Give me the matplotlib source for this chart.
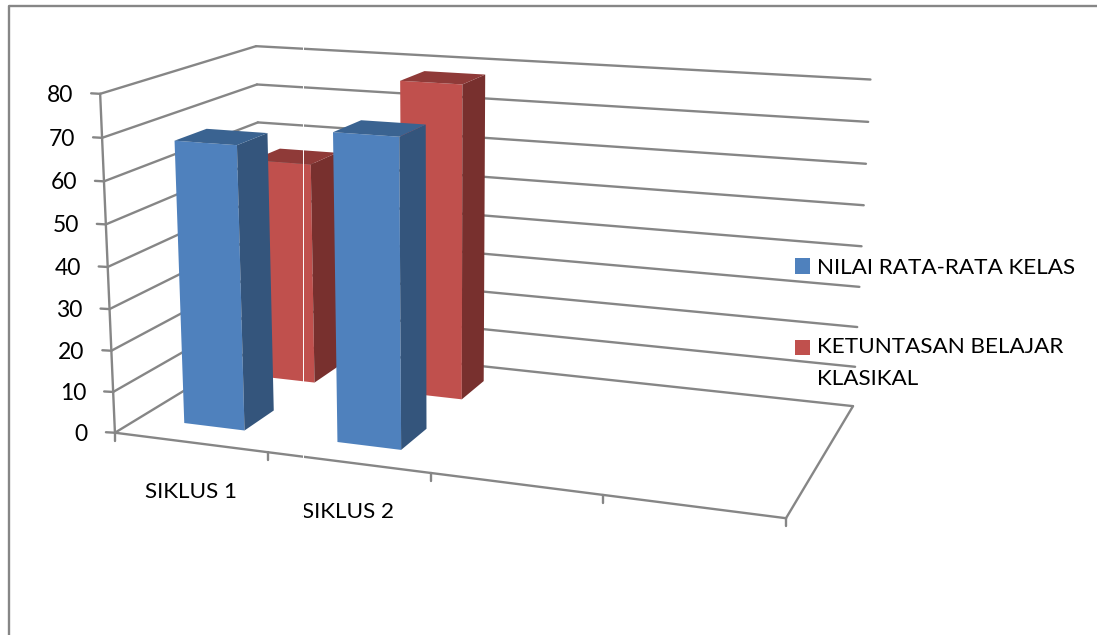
#!/usr/bin/env python3
# 3D style column chart (office look) drawn on a plain axes with a fitted camera
import matplotlib
matplotlib.use('Agg')
import matplotlib.pyplot as plt
from matplotlib.legend_handler import HandlerPatch
from matplotlib.patches import Patch, Rectangle
from matplotlib.collections import PolyCollection
import numpy as np

categories = ['SIKLUS 1', 'SIKLUS 2']
series_names = ['NILAI RATA-RATA KELAS', 'KETUNTASAN BELAJAR\nKLASIKAL']
nilai_rata = [68, 72.5]
ketuntasan = [56, 78]
y_ticks = [0, 10, 20, 30, 40, 50, 60, 70, 80]

N_CATS = 4      # the floor has room for four categories, two are empty
N_DEPTH = 2
Z_MAX = 80
GAP = 0.3       # gap on each side of a column, in category units

FRONT = {'blue': '#4F81BD', 'red': '#C0504D'}
SIDE = {'blue': '#34557C', 'red': '#78302E'}
TOP = {'blue': '#3A6391', 'red': '#8F3A38'}
GREY = '#868686'

# camera fit: (category, depth, value) -> picture pixel
world_pts = [(0, 0, 0), (0, 0, 40), (0, 0, 80), (1, 0, 0), (2, 0, 0), (3, 0, 0), (4, 0, 0),
             (0, 2, 0), (0, 2, 60), (0, 2, 80), (4, 2, 0), (4, 2, 40), (4, 2, 80)]
pixel_pts = [(117, 432), (106, 267), (100, 94), (268, 451), (431, 473), (603, 497), (786, 518),
             (262, 344), (258, 122), (257, 46), (853, 405), (862, 246), (870, 80)]


def fit_camera(world, pixels):
    rows = []
    for (x, y, z), (u, v) in zip(world, pixels):
        x, y, z, u, v = x / 4, y / 2, z / 80, u / 1000, v / 1000
        rows.append([x, y, z, 1, 0, 0, 0, 0, -u * x, -u * y, -u * z, -u])
        rows.append([0, 0, 0, 0, x, y, z, 1, -v * x, -v * y, -v * z, -v])
    return np.linalg.svd(np.array(rows))[2][-1].reshape(3, 4)


camera = fit_camera(world_pts, pixel_pts)


def project(x, y, z):
    p = camera @ np.array([x / 4, y / 2, z / 80, 1.0])
    return p[0] / p[2] * 1000, p[1] / p[2] * 1000


def draw_column(ax, cat, depth, value, color, zorder):
    x0, x1 = cat + GAP, cat + 1 - GAP
    y0, y1 = depth + GAP, depth + 1 - GAP
    front = [project(x0, y0, 0), project(x1, y0, 0), project(x1, y0, value), project(x0, y0, value)]
    side = [project(x1, y0, 0), project(x1, y1, 0), project(x1, y1, value), project(x1, y0, value)]
    top = [project(x0, y0, value), project(x1, y0, value), project(x1, y1, value), project(x0, y1, value)]
    faces = PolyCollection([front, side, top], facecolors=[FRONT[color], SIDE[color], TOP[color]],
                           edgecolors='none', zorder=zorder, antialiaseds=True)
    ax.add_collection(faces)


def grey_line(ax, a, b, lw=1.7):
    ax.plot([a[0], b[0]], [a[1], b[1]], color=GREY, lw=lw, solid_capstyle='round', zorder=1)


def legend_swatch(legend, orig_handle, xdescent, ydescent, width, height, fontsize):
    # two line labels: keep the swatch level with the first line
    rise = 11.5 if orig_handle.get_label() == 'two_lines' else 0
    return Rectangle((-xdescent, -ydescent + rise), width, height)


plt.rcParams['font.family'] = ['Lato', 'DejaVu Sans']
fig = plt.figure(figsize=(10.97, 6.35), dpi=100)
ax = fig.add_axes([0, 0, 1, 1])
ax.set_xlim(0, 1097)
ax.set_ylim(635, 0)
ax.axis('off')

# chart frame, only top and left are inside the crop
ax.plot([9, 9, 1097], [635, 6, 6], color=GREY, lw=1.7, zorder=1)

# walls and floor
for z in y_ticks:
    a = project(0, 0, z)
    b = project(0, 2, z)
    c = project(4, 2, z)
    grey_line(ax, a, b)
    grey_line(ax, b, c)
    grey_line(ax, (a[0] - 9, a[1] - 0.5), a)
    ax.text(a[0] - 27, a[1] + 1.5, str(z), ha='right', va='center', fontsize=16.5, color='black')
grey_line(ax, project(0, 0, 0), project(0, 0, Z_MAX))
grey_line(ax, project(0, 0, 0), project(4, 0, 0))
grey_line(ax, project(4, 0, 0), project(4, 2, 0))
for i in range(N_CATS + 1):
    p = project(i, 0, 0)
    grey_line(ax, p, (p[0], p[1] + 8))

# columns, back row first
for i in range(len(categories)):
    draw_column(ax, i, 1, ketuntasan[i], 'red', 3)
for i in range(len(categories)):
    draw_column(ax, i, 0, nilai_rata[i], 'blue', 4)

# thin white seam seen across the middle of the picture
ax.vlines(303, 30, 635, color='white', lw=0.7, zorder=5)

# category labels
for i, name in enumerate(categories):
    p = project(i + 0.5, 0, 0)
    ax.text(p[0], p[1] + 50, name, ha='center', va='center', fontsize=16.2, color='black')

handles = [Patch(facecolor=FRONT['blue'], edgecolor='none', label='one_line'),
           Patch(facecolor=FRONT['red'], edgecolor='none', label='two_lines')]
leg = ax.legend(handles, series_names, loc='upper left', bbox_to_anchor=(795, 258), bbox_transform=ax.transData,
                frameon=False, fontsize=16.2, handlelength=0.67, handleheight=0.67, handletextpad=0.32,
                labelspacing=2.64, borderpad=0, borderaxespad=0,
                handler_map={Patch: HandlerPatch(patch_func=legend_swatch)})
for t in leg.get_texts():
    t.set_linespacing(1.75)

fig.savefig('out.png', dpi=100)
